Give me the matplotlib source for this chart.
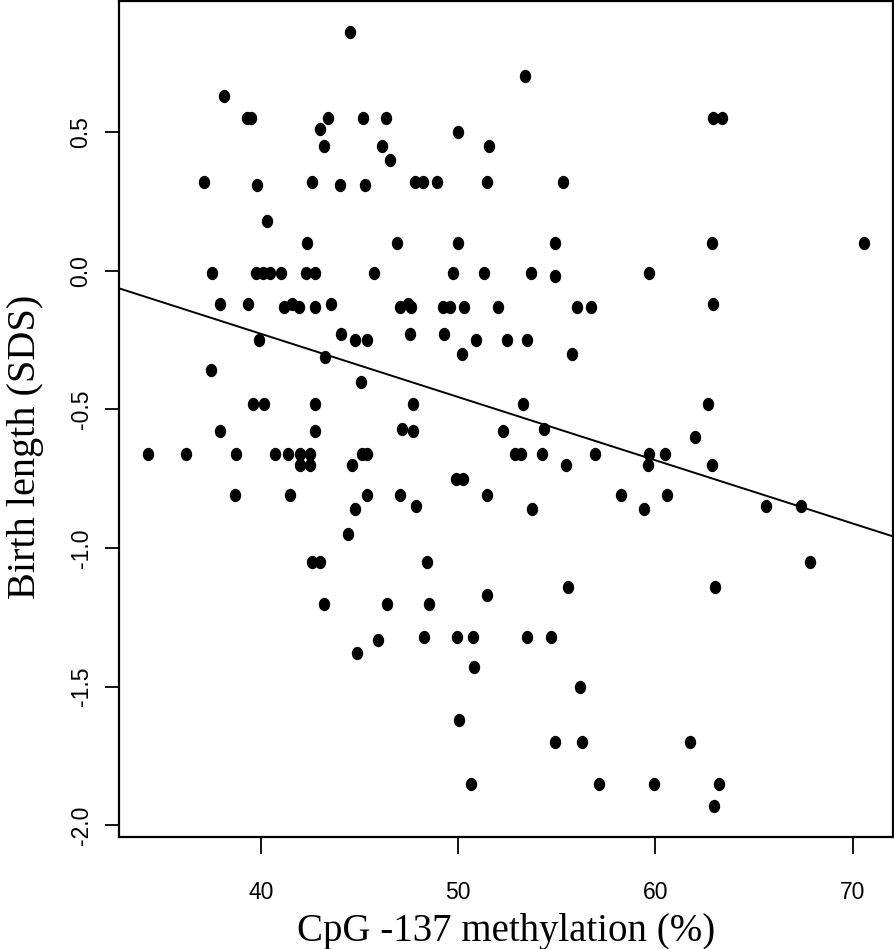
import numpy as np
import matplotlib.pyplot as plt
from matplotlib.path import Path
from matplotlib.transforms import Affine2D

# CpG -137 methylation (%) vs birth length SDS
methylation = [
    44.5, 53.4, 38.1,
    39.3, 39.5, 43.4, 45.15, 46.35, 62.9, 63.4,
    43.0, 50.0,
    43.2, 46.15, 51.55, 46.55,
    37.1, 42.6, 47.8, 48.2, 48.9, 51.45, 55.3,
    39.8, 44.0, 45.25,
    40.3,
    42.35, 46.9, 50.0, 54.9, 62.85, 70.6,
    37.5, 39.75, 40.1, 40.45, 41.0, 42.3, 42.75, 45.75, 49.75, 51.3, 53.7, 59.7,
    54.9,
    37.9, 39.35, 41.55, 43.55, 47.45, 62.9,
    41.15, 41.95, 42.75, 47.05, 47.6, 49.25, 49.6, 50.3, 52.0, 56.05, 56.75,
    44.05, 47.55, 49.3,
    39.9, 44.75, 45.4, 50.9, 52.5, 53.5,
    50.2, 55.75, 43.25, 37.45, 45.05,
    39.6, 40.15, 42.75, 47.7, 53.3, 62.65,
    47.15, 54.35,
    37.9, 42.75, 47.7, 52.25,
    62.0,
    34.25, 36.2, 38.75, 40.7, 41.35, 42.0, 42.5, 45.1, 45.35, 52.9, 53.2, 54.25, 56.95, 59.7, 60.5,
    42.0, 42.5, 44.6, 55.45, 59.65, 62.85,
    49.9, 50.25,
    38.7, 41.45, 45.4, 47.05, 51.45, 58.25, 60.6,
    47.85, 65.6, 67.4,
    44.75, 53.75, 59.4,
    44.4,
    42.6, 43.0, 48.4, 67.85,
    55.55, 63.05, 51.45,
    43.2, 46.4, 48.5,
    48.25, 49.95, 50.75, 53.5, 54.7,
    45.95, 44.85, 50.8, 56.2, 50.05,
    54.9, 56.3, 61.75,
    50.65, 57.15, 59.95, 63.25,
    63.0,
]
birth_length = [
    0.86, 0.70, 0.63,
    0.55, 0.55, 0.55, 0.55, 0.55, 0.55, 0.55,
    0.51, 0.50,
    0.45, 0.45, 0.45, 0.40,
    0.32, 0.32, 0.32, 0.32, 0.32, 0.32, 0.32,
    0.31, 0.31, 0.31,
    0.18,
    0.10, 0.10, 0.10, 0.10, 0.10, 0.10,
    -0.01, -0.01, -0.01, -0.01, -0.01, -0.01, -0.01, -0.01, -0.01, -0.01, -0.01, -0.01,
    -0.02,
    -0.12, -0.12, -0.12, -0.12, -0.12, -0.12,
    -0.13, -0.13, -0.13, -0.13, -0.13, -0.13, -0.13, -0.13, -0.13, -0.13, -0.13,
    -0.23, -0.23, -0.23,
    -0.25, -0.25, -0.25, -0.25, -0.25, -0.25,
    -0.30, -0.30, -0.31, -0.36, -0.40,
    -0.48, -0.48, -0.48, -0.48, -0.48, -0.48,
    -0.57, -0.57,
    -0.58, -0.58, -0.58, -0.58,
    -0.60,
    -0.66, -0.66, -0.66, -0.66, -0.66, -0.66, -0.66, -0.66, -0.66, -0.66, -0.66, -0.66, -0.66, -0.66, -0.66,
    -0.70, -0.70, -0.70, -0.70, -0.70, -0.70,
    -0.75, -0.75,
    -0.81, -0.81, -0.81, -0.81, -0.81, -0.81, -0.81,
    -0.85, -0.85, -0.85,
    -0.86, -0.86, -0.86,
    -0.95,
    -1.05, -1.05, -1.05, -1.05,
    -1.14, -1.14, -1.17,
    -1.20, -1.20, -1.20,
    -1.32, -1.32, -1.32, -1.32, -1.32,
    -1.33, -1.38, -1.43, -1.50, -1.62,
    -1.70, -1.70, -1.70,
    -1.85, -1.85, -1.85, -1.85,
    -1.93,
]

x_ticks = [40, 50, 60, 70]
y_ticks = [-2.0, -1.5, -1.0, -0.5, 0.0, 0.5]

x = np.array(methylation)
y = np.array(birth_length)

# R style axis range: data range padded by 4 %
xpad = 0.04 * (x.max() - x.min())
ypad = 0.04 * (y.max() - y.min())
xlim = (x.min() - xpad, x.max() + xpad)
ylim = (y.min() - ypad, y.max() + ypad)

fig = plt.figure(figsize=(8.95, 9.49), dpi=100)
ax = fig.add_axes([119 / 895, 112 / 949, 774 / 895, 836 / 949])

# slightly tall filled dots, like the original
dot = Path.unit_circle().transformed(Affine2D().scale(1.0, 1.2))
ax.plot(x, y, ls='none', marker=dot, ms=8.6, color='black')

# least squares line across the whole panel (abline)
slope, intercept = np.polyfit(x, y, 1)
xs = np.array(xlim)
ax.plot(xs, intercept + slope * xs, color='black', lw=1.4)

ax.set_xlim(xlim)
ax.set_ylim(ylim)

ax.set_xticks(x_ticks)
ax.set_xticklabels([str(t) for t in x_ticks], family='Liberation Sans', fontsize=16.5)
ax.set_yticks(y_ticks)
ax.set_yticklabels(['%.1f' % t for t in y_ticks], family='Liberation Sans', fontsize=16.5,
                   rotation=90, va='center')
ax.tick_params(direction='out', width=1.3, color='black')
ax.tick_params(axis='x', length=12, pad=20)
ax.tick_params(axis='y', length=10, pad=9)

for s in ax.spines.values():
    s.set_linewidth(1.6)

fig.text(506 / 895, 1 - 931 / 949, 'CpG -137 methylation (%)', family='Liberation Serif',
         fontsize=28, ha='center', va='center')
fig.text(26 / 895, 1 - 447 / 949, 'Birth length (SDS)', family='Liberation Serif',
         fontsize=29, ha='center', va='center', rotation=90)

fig.savefig('out.png', dpi=100)
